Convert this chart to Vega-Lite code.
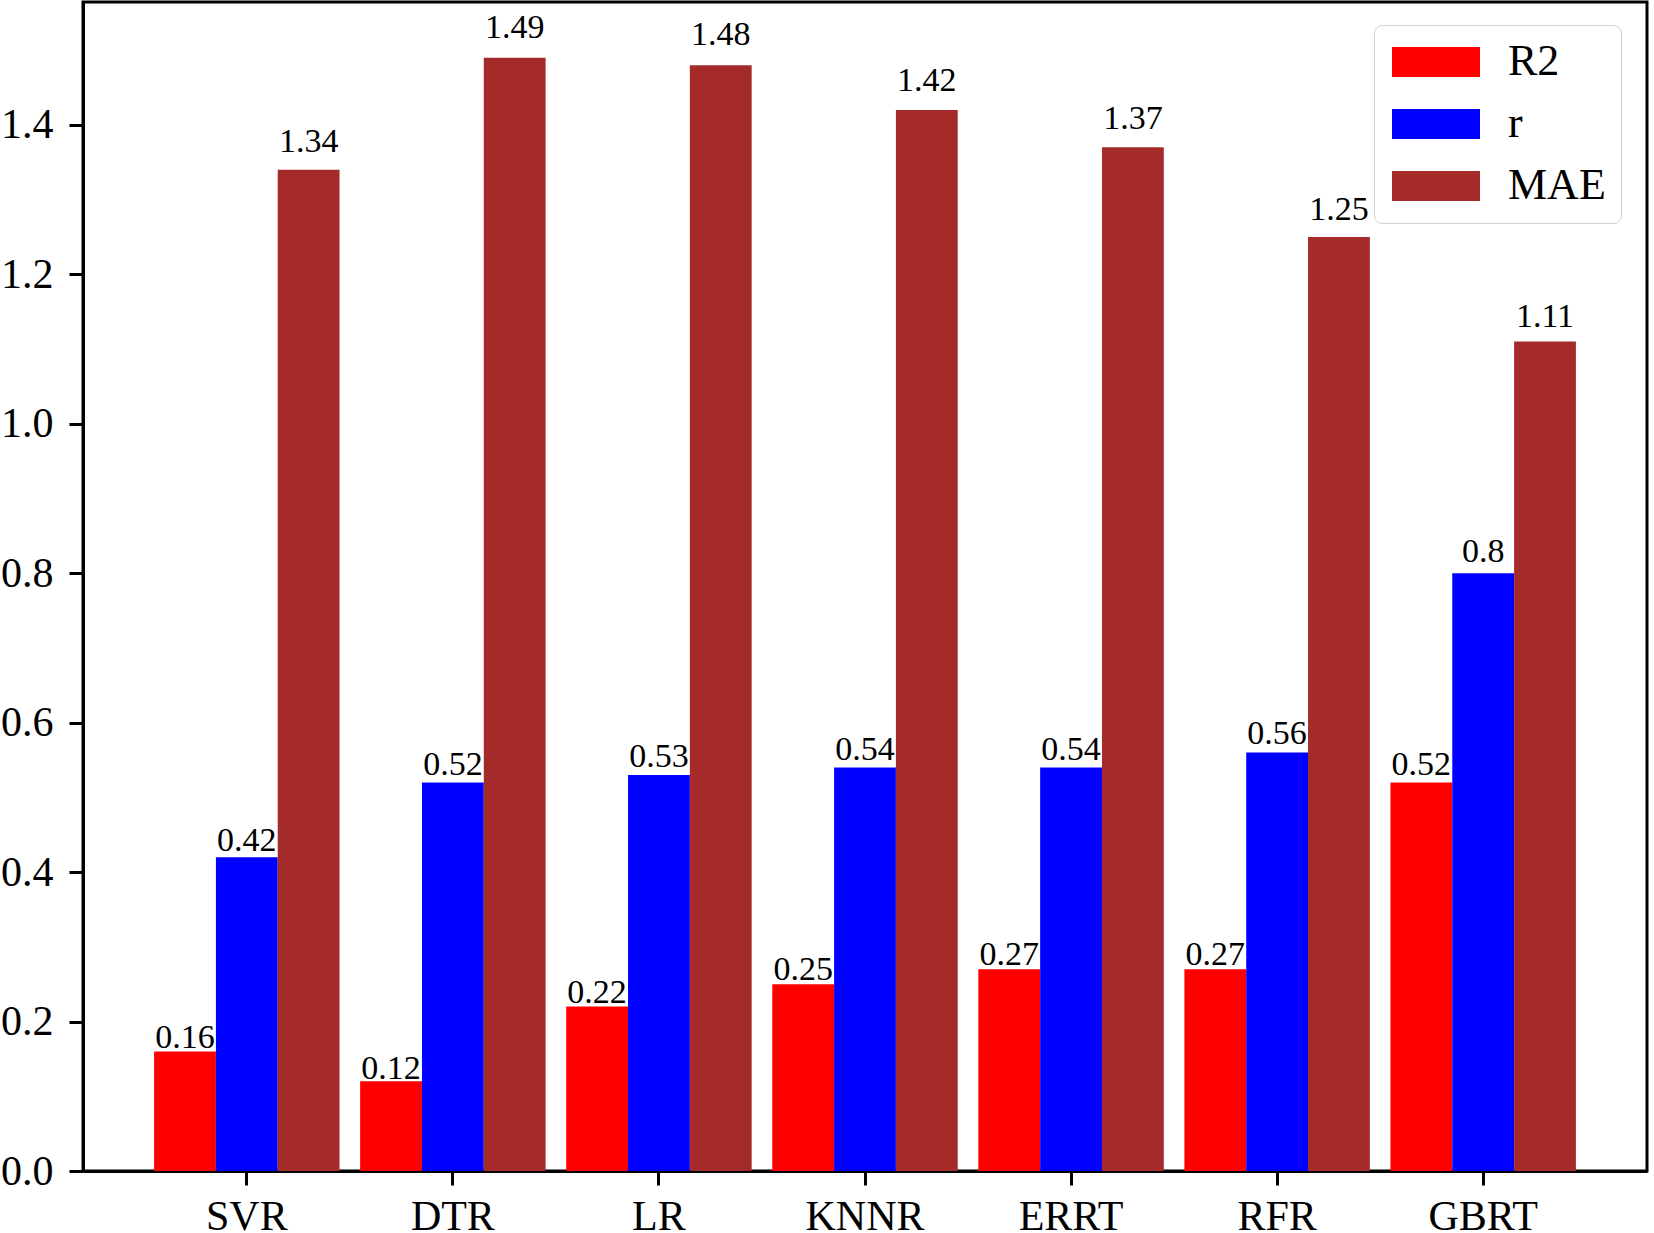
{
  "$schema": "https://vega.github.io/schema/vega-lite/v6.json",
  "width": 1564,
  "height": 1169,
  "autosize": {"type": "none"},
  "padding": {"left": 83, "top": 2, "right": 7, "bottom": 62},
  "background": "white",
  "config": {
    "font": "Liberation Serif",
    "view": {"stroke": "black", "strokeWidth": 3},
    "axis": {
      "domainColor": "black", "domainWidth": 3,
      "tickColor": "black", "tickWidth": 3, "tickSize": 14,
      "labelColor": "black", "labelFont": "Liberation Serif", "labelFontSize": 42,
      "grid": false, "title": null
    }
  },
  "data": {
    "values": [
      {"model": "SVR", "metric": "R2", "value": 0.16},
      {"model": "SVR", "metric": "r", "value": 0.42},
      {"model": "SVR", "metric": "MAE", "value": 1.34},
      {"model": "DTR", "metric": "R2", "value": 0.12},
      {"model": "DTR", "metric": "r", "value": 0.52},
      {"model": "DTR", "metric": "MAE", "value": 1.49},
      {"model": "LR", "metric": "R2", "value": 0.22},
      {"model": "LR", "metric": "r", "value": 0.53},
      {"model": "LR", "metric": "MAE", "value": 1.48},
      {"model": "KNNR", "metric": "R2", "value": 0.25},
      {"model": "KNNR", "metric": "r", "value": 0.54},
      {"model": "KNNR", "metric": "MAE", "value": 1.42},
      {"model": "ERRT", "metric": "R2", "value": 0.27},
      {"model": "ERRT", "metric": "r", "value": 0.54},
      {"model": "ERRT", "metric": "MAE", "value": 1.37},
      {"model": "RFR", "metric": "R2", "value": 0.27},
      {"model": "RFR", "metric": "r", "value": 0.56},
      {"model": "RFR", "metric": "MAE", "value": 1.25},
      {"model": "GBRT", "metric": "R2", "value": 0.52},
      {"model": "GBRT", "metric": "r", "value": 0.8},
      {"model": "GBRT", "metric": "MAE", "value": 1.11}
    ]
  },
  "encoding": {
    "x": {
      "field": "model", "type": "nominal",
      "sort": ["SVR", "DTR", "LR", "KNNR", "ERRT", "RFR", "GBRT"],
      "scale": {"paddingInner": 0.1, "paddingOuter": 0.345},
      "axis": {"labelAngle": 0, "labelPadding": 11, "title": null}
    },
    "xOffset": {
      "field": "metric", "type": "nominal",
      "sort": ["R2", "r", "MAE"],
      "scale": {"paddingInner": 0, "paddingOuter": 0}
    },
    "y": {
      "field": "value", "type": "quantitative",
      "scale": {"domain": [0, 1.5645], "nice": false, "zero": true},
      "axis": {"values": [0, 0.2, 0.4, 0.6, 0.8, 1.0, 1.2, 1.4], "format": ".1f", "labelPadding": 16, "title": null}
    }
  },
  "layer": [
    {
      "mark": {"type": "bar"},
      "encoding": {
        "color": {
          "field": "metric", "type": "nominal",
          "sort": ["R2", "r", "MAE"],
          "scale": {"domain": ["R2", "r", "MAE"], "range": ["#ff0000", "#0000ff", "#a52a2a"]},
          "legend": {
            "title": null,
            "orient": "none",
            "legendX": 1291,
            "legendY": 23,
            "padding": 15,
            "fillColor": "white",
            "strokeColor": "#d0d0d0",
            "cornerRadius": 8,
            "symbolType": "M-2.933,-1L2.933,-1L2.933,1L-2.933,1Z",
            "symbolSize": 900,
            "symbolStrokeWidth": 0,
            "symbolOpacity": 1,
            "symbolOffset": 25,
            "labelFont": "Liberation Serif",
            "labelFontSize": 44,
            "labelColor": "black",
            "labelOffset": 50,
            "rowPadding": 18
          }
        }
      }
    },
    {
      "mark": {
        "type": "text",
        "baseline": "alphabetic",
        "align": "center",
        "font": "Liberation Serif",
        "fontSize": 34,
        "color": "black",
        "dy": {"expr": "-datum.value*12.7-1"}
      },
      "encoding": {
        "text": {"field": "value", "type": "quantitative"}
      }
    }
  ]
}
